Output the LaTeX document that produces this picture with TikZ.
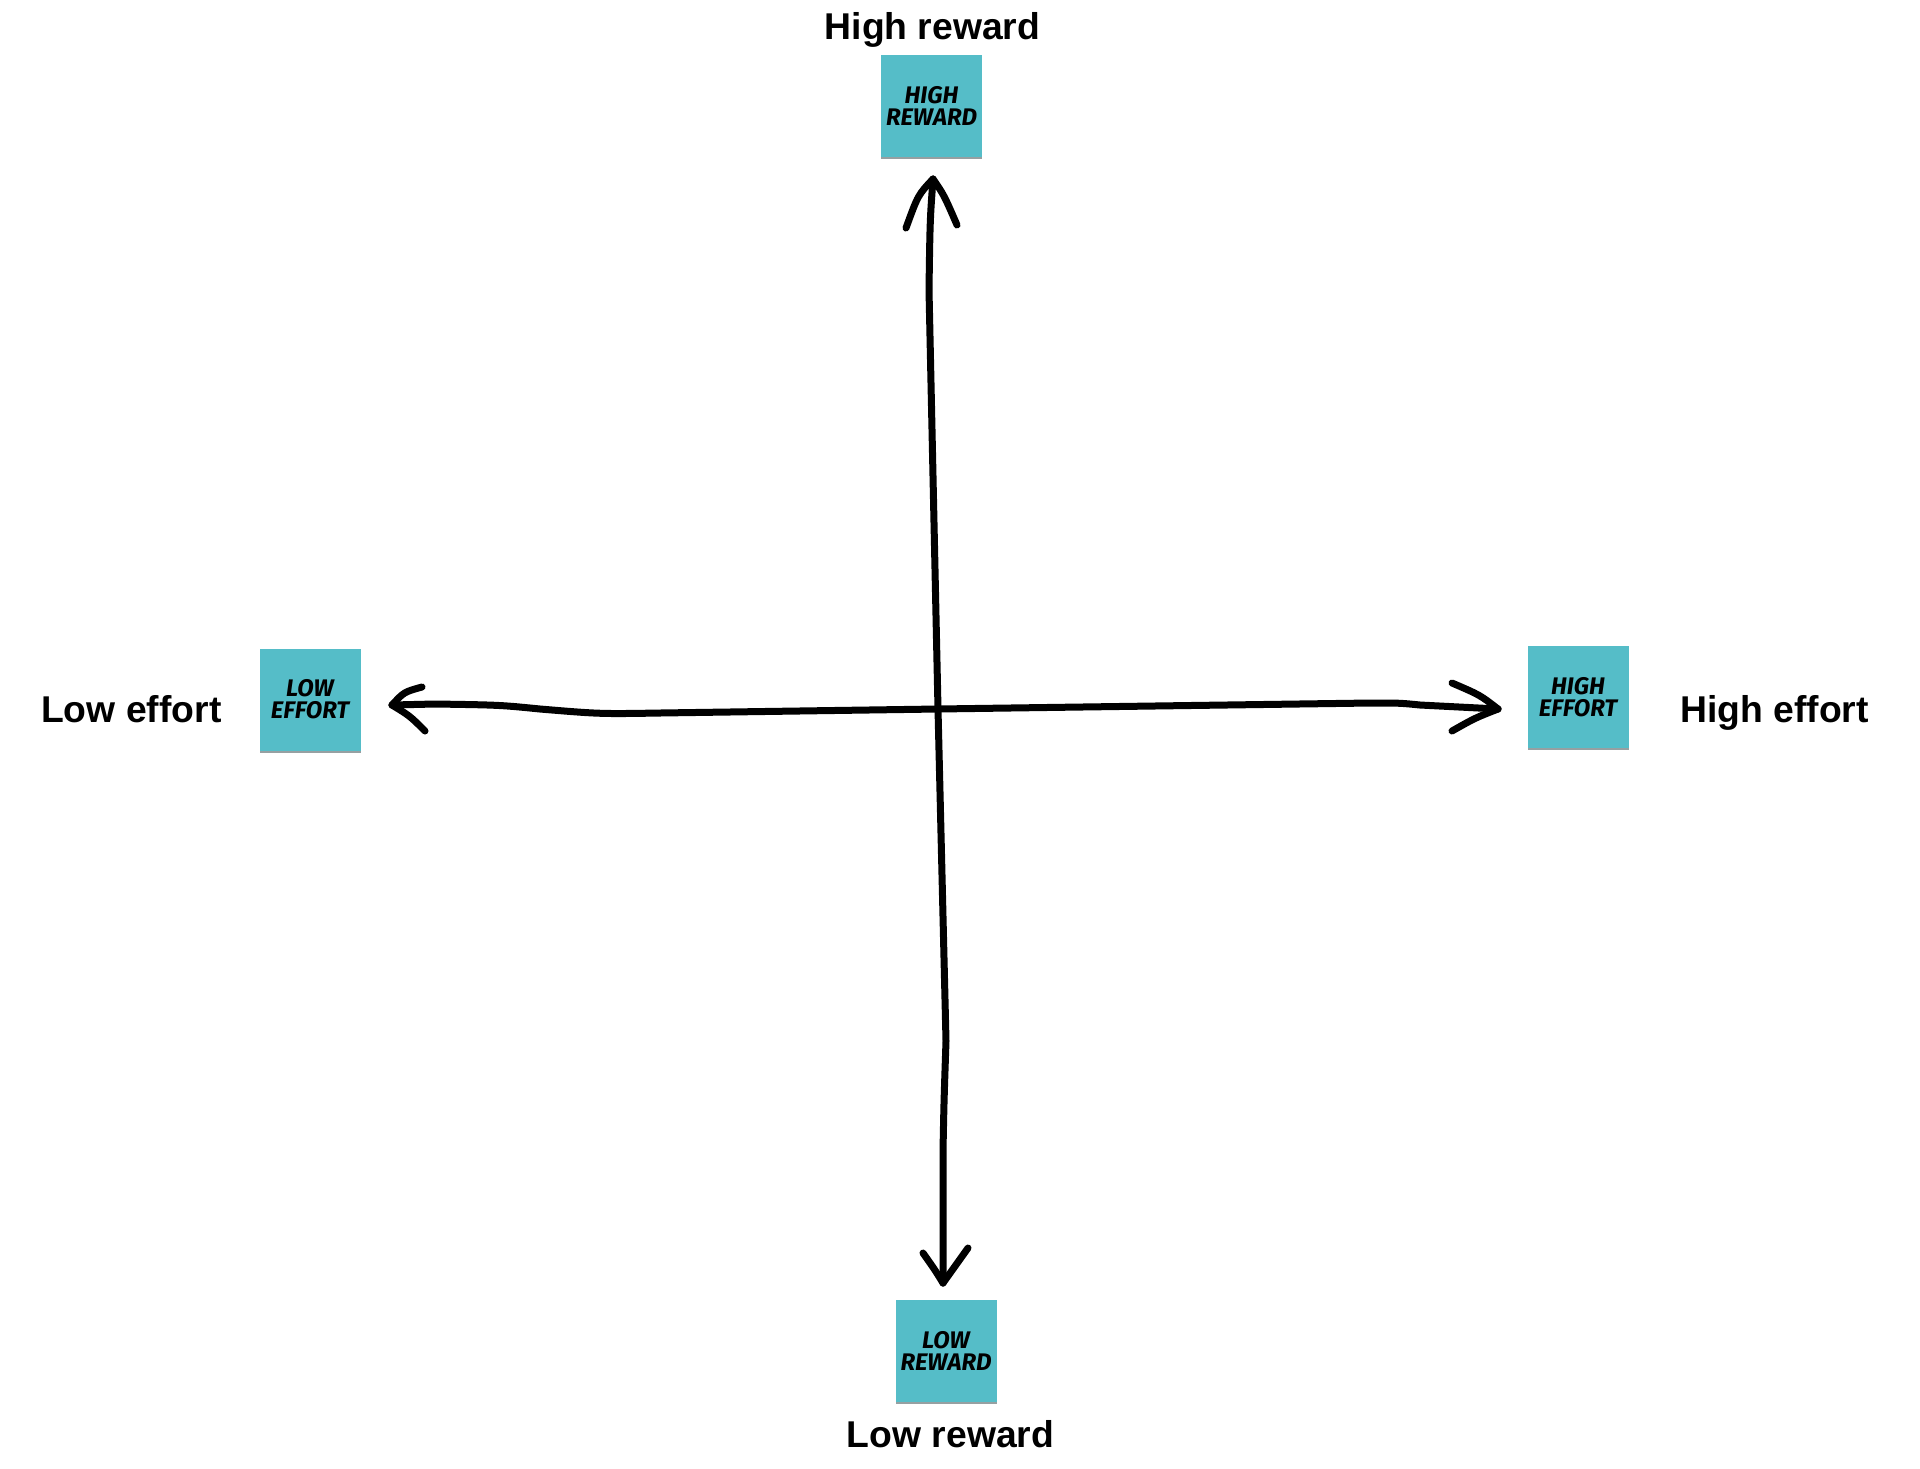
\documentclass[tikz,border=0pt]{standalone}
\usepackage{fontspec}
\setmainfont{Liberation Sans}
\newfontfamily\notefont{Fira Sans}
\definecolor{notecyan}{RGB}{85,189,200}
\definecolor{noteshadow}{RGB}{150,160,162}
\begin{document}
\begin{tikzpicture}[x=1pt,y=-1pt,
  note/.style={fill=notecyan, minimum width=101pt, minimum height=102pt, inner sep=0pt,
    align=center, font=\notefont\bfseries\itshape\fontsize{24}{22}\selectfont,
    text=black},
  axislabel/.style={inner sep=0pt, font=\bfseries\fontsize{37.3}{40}\selectfont},
  axisline/.style={line width=7pt, line cap=round, line join=round, black}]
\useasboundingbox (0,0) rectangle (1920,1468);
% shadows
\foreach \cx/\cy in {931.5/106, 310/699.5, 1578/697, 946/1351}
  \fill[noteshadow] (\cx-50.5,\cy+49) rectangle (\cx+50.5,\cy+53);
% notes
\node[note] (hr) at (931.5,106) {HIGH\\REWARD};
\node[note] (le) at (310,699.5) {LOW\\EFFORT};
\node[note] (he) at (1578,697) {HIGH\\EFFORT};
\node[note] (lr) at (946,1351) {LOW\\REWARD};
% labels
\node[axislabel, anchor=base] (lhr) at (932.5,39) {High reward};
\node[axislabel, anchor=base west] (lle) at (41,722) {Low effort};
\node[axislabel, anchor=base west] (lhe) at (1680,722) {High effort};
\node[axislabel, anchor=base] (llr) at (950.5,1447) {Low reward};
% axis tips
\coordinate (ttop) at (933,179);
\coordinate (tbot) at (943,1283);
\coordinate (tleft) at (392,705);
\coordinate (tright) at (1498,709);
\coordinate (ctr) at (938,709);
% vertical axis
\draw[axisline] (ttop) .. controls (930,220) .. (929,290) -- (ctr) -- (946,1041)
  .. controls (944,1100) .. (943,1151) -- (tbot);
\draw[axisline] (ttop) .. controls (918,195) .. (906,228);
\draw[axisline] (ttop) .. controls (944,195) .. (957,225);
\draw[axisline] (tbot) .. controls (935,1270) .. (923,1253);
\draw[axisline] (tbot) .. controls (955,1265) .. (968,1248);
% horizontal axis
\draw[axisline] (tleft) -- (435,704) .. controls (500,705) .. (540,709)
  .. controls (600,714) .. (660,713) -- (ctr) -- (1371,703)
  .. controls (1400,703) .. (1420,705) -- (tright);
\draw[axisline] (tleft) .. controls (404,692) .. (422,687);
\draw[axisline] (tleft) .. controls (410,716) .. (425,731);
\draw[axisline] (tright) .. controls (1480,695) .. (1452,683);
\draw[axisline] (tright) .. controls (1475,718) .. (1452,731);
\end{tikzpicture}
\end{document}
